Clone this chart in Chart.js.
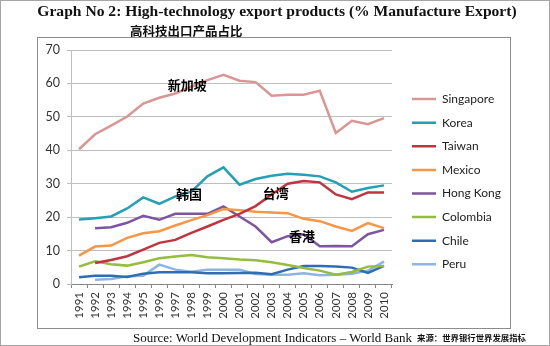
<!DOCTYPE html>
<html><head><meta charset="utf-8">
<script src="https://cdn.jsdelivr.net/npm/chart.js@4.4.0/dist/chart.umd.min.js"></script>
<style>
html,body{margin:0;padding:0;background:#fff;}
#wrap{position:relative;width:550px;height:346px;overflow:hidden;background:#fff;}
#border{position:absolute;left:0;top:0;width:550px;height:346px;box-sizing:border-box;border:1px solid #a6a6a6;}
#frame{position:absolute;left:37px;top:37px;width:474px;height:292px;box-sizing:border-box;border:1.5px solid #8c8c8c;}
canvas{position:absolute;left:0;top:0;}
#title{position:absolute;left:2px;width:550px;top:2px;text-align:center;font:bold 15.6px "Liberation Serif",serif;color:#111;white-space:nowrap;}
#sub{position:absolute;left:130px;top:21px;font:bold 12.5px "Noto Sans CJK SC";color:#111;white-space:nowrap;}
#src{position:absolute;left:133px;top:330px;font:13px "Liberation Serif",serif;color:#111;white-space:nowrap;line-height:16px;}
#src span{font:bold 8.4px "Noto Sans CJK SC";margin-left:5px;vertical-align:1px;}
</style></head>
<body>
<div id="wrap">
<div id="border"></div>
<div id="frame"></div>
<canvas id="c" width="550" height="346"></canvas>
<div id="title">Graph No 2: High-technology export products (% Manufacture Export)</div>
<div id="sub">高科技出口产品占比</div>
<div id="src">Source: World Development Indicators – World Bank<span>来源：世界银行世界发展指标</span></div>
</div>
<script>
const years = ['1991','1992','1993','1994','1995','1996','1997','1998','1999','2000','2001','2002','2003','2004','2005','2006','2007','2008','2009','2010'];
const seriesNames = ['Singapore','Korea','Taiwan','Mexico','Hong Kong','Colombia','Chile','Peru'];
const singapore = [40.3,44.8,47.4,50.1,54,55.7,57,59,61,62.6,60.8,60.4,56.3,56.6,56.6,57.8,45.2,48.8,47.8,49.6];
const korea     = [19.3,19.7,20.2,22.6,25.9,24,26.2,27.6,32.2,34.9,29.7,31.4,32.4,33,32.7,32.2,30.4,27.6,28.7,29.5];
const taiwan    = [null,6.3,7.2,8.3,10.3,12.3,13.2,15.3,17.2,19.2,21,23.3,26.8,30,30.8,30.4,26.8,25.4,27.4,27.4];
const mexico    = [8.5,11.2,11.5,13.8,15.2,15.8,17.5,19.1,20.6,22.4,22.1,21.6,21.4,21.2,19.5,18.8,17.2,15.9,18.2,16.7];
const hongKong  = [null,16.7,17,18.3,20.4,19.2,21,21,21,23.2,20.2,17.2,12.5,14.3,14.9,11.3,11.4,11.3,14.9,16.2];
const colombia  = [5.2,6.8,5.9,5.5,6.5,7.7,8.2,8.7,8,7.7,7.3,7.1,6.5,5.7,4.8,4,2.8,3.6,5.2,5.4];
const chile     = [2,2.5,2.5,2.1,3.1,3.5,3.5,3.5,3.2,3.2,3.3,3.4,2.9,4.3,5.4,5.4,5.2,4.9,3.3,5.4];
const peru      = [null,1.3,1.5,2.3,2.5,5.8,4.3,3.7,4.3,4.3,4.3,3,2.8,2.8,3.2,2.6,2.8,3.1,4,6.7];
const yTicks = [0,10,20,30,40,50,60,70];
const noteTexts = ['新加坡','韩国','台湾','香港'];
const noteX = [6.75, 6.85, 12.25, 13.9];
const noteY = [59.5, 26.9, 27.3, 14.4];

const values = [singapore,korea,taiwan,mexico,hongKong,colombia,chile,peru];
const colors = ['#d99694','#23a0b4','#c0343f','#f79646','#7d55a0','#94bc3e','#2e6db4','#8db4e2'];

const datasets = seriesNames.map((n,i)=>({
  label:n, data:values[i], borderColor:colors[i], backgroundColor:colors[i],
  borderWidth:2.5, pointRadius:0, tension:0, fill:false, spanGaps:false
}));

const layoutFix = {
  id:'layoutFix',
  patch(chart){
    const lg = chart.legend;
    if (lg && !lg._patched){
      const orig = lg.fit;
      lg.fit = function(){ orig.call(this); this.width = 158; };
      lg._patched = true;
    }
  },
  beforeInit(chart){ this.patch(chart); },
  beforeUpdate(chart){ this.patch(chart); },
  afterLayout(chart){
    const lg = chart.legend; if(!lg) return;
    const w = lg.width, h = lg.height;
    lg.left = 400.4; lg.right = lg.left + w;
    lg.top = 81.5; lg.bottom = lg.top + h;
  }
};
const notesPlugin = {
  id:'notes',
  afterDatasetsDraw(chart){
    const ctx = chart.ctx, xs = chart.scales.x, ys = chart.scales.y;
    ctx.save();
    ctx.font = 'bold 13px "Noto Sans CJK SC"';
    ctx.fillStyle = '#000'; ctx.textAlign='center'; ctx.textBaseline='middle';
    noteTexts.forEach((t,i)=>{
      ctx.fillText(t, xs.getPixelForValue(noteX[i]), ys.getPixelForValue(noteY[i]));
    });
    ctx.restore();
  }
};

new Chart(document.getElementById('c'), {
  type:'line',
  data:{labels:years, datasets},
  plugins:[layoutFix, notesPlugin],
  options:{
    responsive:false, animation:false, devicePixelRatio:1,
    layout:{padding:{top:50,left:0,right:0,bottom:0}},
    plugins:{
      title:{display:false}, tooltip:{enabled:false},
      legend:{position:'right', align:'start',
        labels:{usePointStyle:true, pointStyle:'line', pointStyleWidth:24, padding:11.6,
          color:'#222', font:{family:'Lato', size:12}}}
    },
    scales:{
      x:{offset:true,
        afterFit(s){ s.height = 62; },
        grid:{display:true, drawOnChartArea:false, drawTicks:true, tickLength:4, offset:true, color:'#868686'},
        border:{display:true, color:'#868686', width:1},
        ticks:{autoSkip:false, maxRotation:90, minRotation:90, padding:4, color:'#333', font:{family:'Lato', size:11.5}}
      },
      y:{min:0, max:70,
        afterFit(s){ s.width = 71; },
        afterBuildTicks(s){ s.ticks = yTicks.map(v=>({value:v})); },
        grid:{color:'#bfbfbf', drawTicks:true, tickLength:4, lineWidth:1},
        border:{display:true, color:'#bfbfbf'},
        ticks:{padding:7, color:'#333', font:{family:'Lato', size:12.5}}
      }
    }
  }
});
</script>
</body></html>
